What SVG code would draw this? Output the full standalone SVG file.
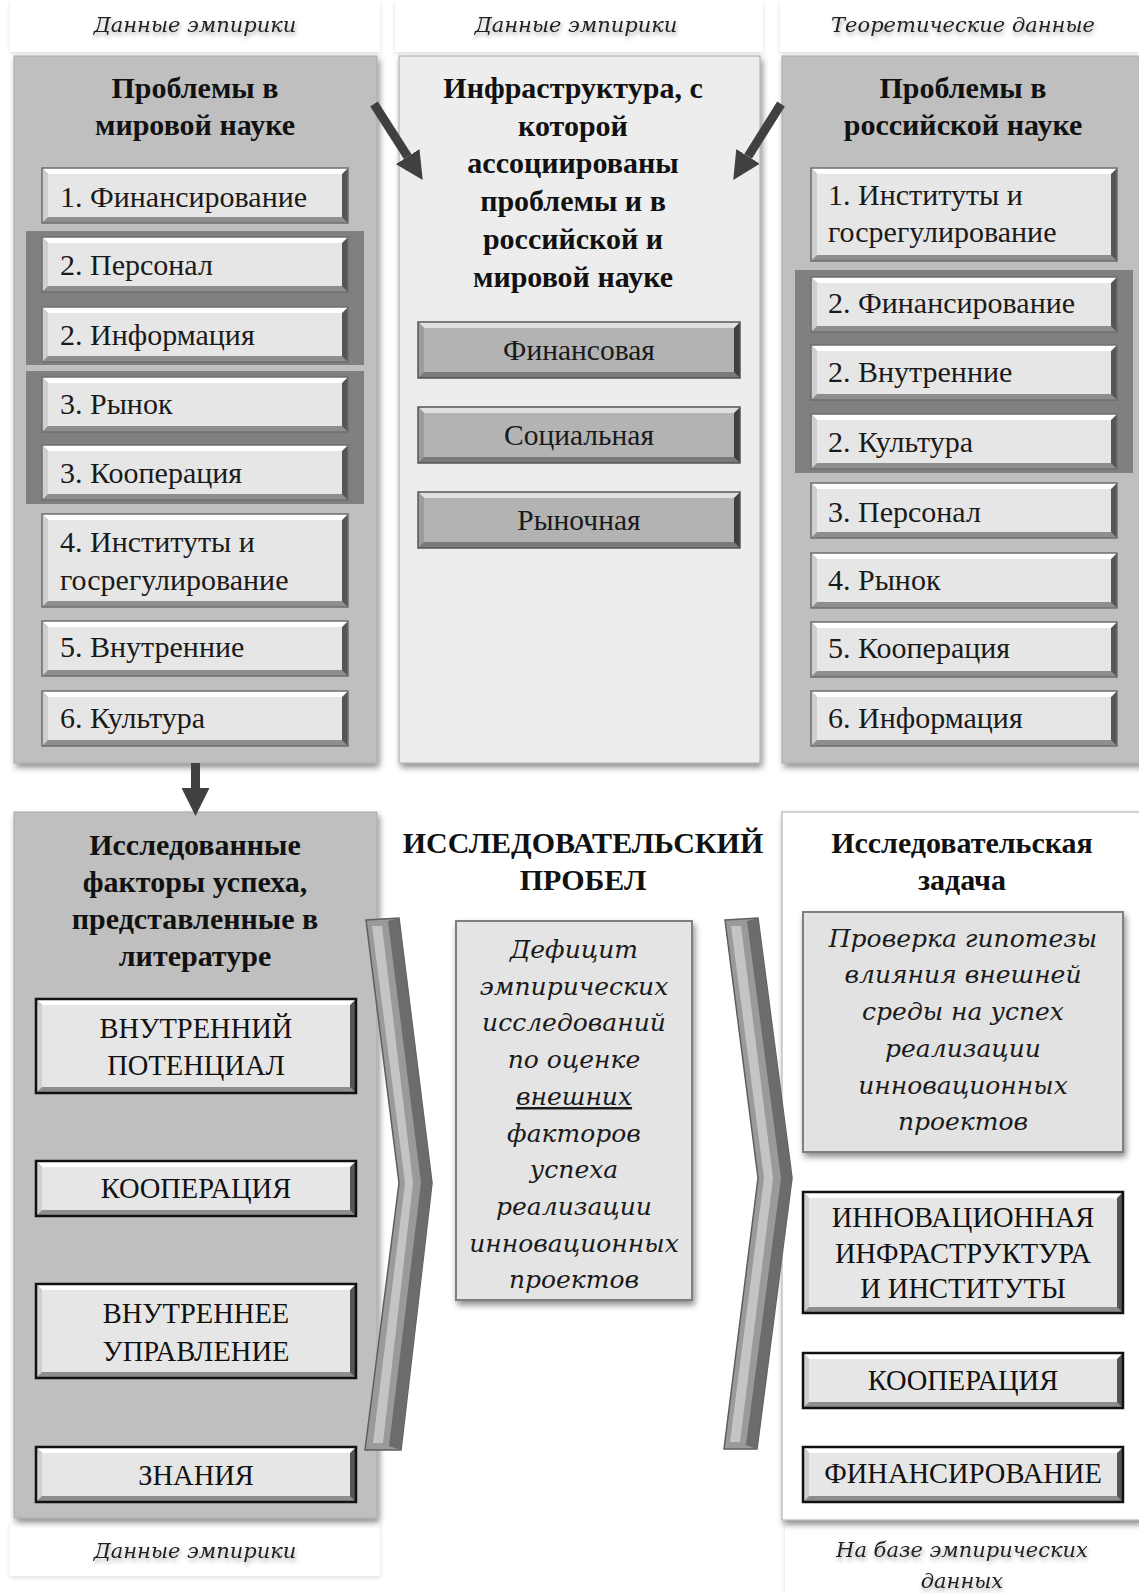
<svg xmlns="http://www.w3.org/2000/svg" xmlns:xlink="http://www.w3.org/1999/xlink" width="1139" height="1593" viewBox="0 0 1139 1593">
<style>
.h{font-family:"Liberation Serif","Times New Roman",serif;font-weight:bold;font-size:30px;fill:#111;text-anchor:middle}
.it{font-family:"Liberation Serif","Times New Roman",serif;font-size:30px;fill:#1a1a1a}
.mid{font-family:"Liberation Serif","Times New Roman",serif;font-size:29.5px;fill:#1a1a1a;text-anchor:middle}
.cap{font-family:"Liberation Serif","Times New Roman",serif;font-size:28.5px;fill:#111;text-anchor:middle}
.lab{font-family:"DejaVu Serif",serif;font-style:italic;font-size:21px;fill:#222;text-anchor:middle}
.ital{font-family:"DejaVu Serif",serif;font-style:italic;font-size:25px;fill:#1a1a1a;text-anchor:middle}
.panel{stroke:#a9a9a9;stroke-width:1}
.band{fill:#808080}
.strip{fill:#fff}
</style>
<defs>
<filter id="sh" x="-10%" y="-10%" width="120%" height="120%"><feDropShadow dx="2" dy="4" stdDeviation="3" flood-color="#000" flood-opacity="0.45"/></filter>
<filter id="shs" x="-10%" y="-30%" width="120%" height="160%"><feDropShadow dx="0" dy="2" stdDeviation="2" flood-color="#000" flood-opacity="0.12"/></filter>
<filter id="tsh" x="-10%" y="-40%" width="120%" height="180%"><feDropShadow dx="1" dy="3" stdDeviation="2" flood-color="#000" flood-opacity="0.35"/></filter>
<marker id="ah" viewBox="0 0 10 10" refX="0" refY="5" markerWidth="3.1" markerHeight="3.1" orient="auto" markerUnits="strokeWidth"><path d="M0,0 L10,5 L0,10 z" fill="#404040"/></marker>
<g id="bA">
<rect width="306" height="55" fill="#8e8e8e"/>
<polygon points="306,0 306,55 300,49 300,6" fill="#555"/>
<polygon points="0,0 306,0 300,6 6,6" fill="#fff"/>
<polygon points="0,0 6,6 6,49 0,55" fill="#cfcfcf"/>
<rect x="6" y="6" width="294" height="43" fill="#e6e6e6"/>
<rect width="306" height="55" fill="none" stroke="#6e6e6e" stroke-width="1.5"/>
</g>
<g id="bA2">
<rect width="306" height="93" fill="#8e8e8e"/>
<polygon points="306,0 306,93 300,87 300,6" fill="#555"/>
<polygon points="0,0 306,0 300,6 6,6" fill="#fff"/>
<polygon points="0,0 6,6 6,87 0,93" fill="#cfcfcf"/>
<rect x="6" y="6" width="294" height="81" fill="#e6e6e6"/>
<rect width="306" height="93" fill="none" stroke="#6e6e6e" stroke-width="1.5"/>
</g>
<g id="bM">
<rect width="322" height="56" fill="#7a7a7a"/>
<polygon points="322,0 322,56 316,50 316,6" fill="#3f3f3f"/>
<polygon points="0,0 322,0 316,6 6,6" fill="#e0e0e0"/>
<polygon points="0,0 6,6 6,50 0,56" fill="#9c9c9c"/>
<rect x="6" y="6" width="310" height="44" fill="#b3b3b3"/>
<rect width="322" height="56" fill="none" stroke="#555" stroke-width="1.5"/>
</g>
<g id="bC">
<rect width="320" height="55" fill="#8e8e8e"/>
<polygon points="320,0 320,55 314,49 314,6" fill="#555"/>
<polygon points="0,0 320,0 314,6 6,6" fill="#fff"/>
<polygon points="0,0 6,6 6,49 0,55" fill="#cfcfcf"/>
<rect x="6" y="6" width="308" height="43" fill="#e6e6e6"/>
<rect width="320" height="55" fill="none" stroke="#111" stroke-width="2.5"/>
</g>
<g id="bC2">
<rect width="320" height="94" fill="#8e8e8e"/>
<polygon points="320,0 320,94 314,88 314,6" fill="#555"/>
<polygon points="0,0 320,0 314,6 6,6" fill="#fff"/>
<polygon points="0,0 6,6 6,88 0,94" fill="#cfcfcf"/>
<rect x="6" y="6" width="308" height="82" fill="#e6e6e6"/>
<rect width="320" height="94" fill="none" stroke="#111" stroke-width="2.5"/>
</g>
<g id="bC3">
<rect width="320" height="121" fill="#8e8e8e"/>
<polygon points="320,0 320,121 314,115 314,6" fill="#555"/>
<polygon points="0,0 320,0 314,6 6,6" fill="#fff"/>
<polygon points="0,0 6,6 6,115 0,121" fill="#cfcfcf"/>
<rect x="6" y="6" width="308" height="109" fill="#e6e6e6"/>
<rect width="320" height="121" fill="none" stroke="#111" stroke-width="2.5"/>
</g>
</defs>
<rect width="1139" height="1593" fill="#fff"/>

<!-- label strips -->
<g id="labels">
<rect class="strip" x="10" y="0" width="370" height="52" filter="url(#shs)"/>
<rect class="strip" x="395" y="0" width="368" height="52" filter="url(#shs)"/>
<rect class="strip" x="780" y="0" width="359" height="52" filter="url(#shs)"/>
<rect class="strip" x="10" y="1522" width="370" height="54" filter="url(#shs)"/>
<rect class="strip" x="785" y="1522" width="354" height="71" filter="url(#shs)"/>
<g filter="url(#tsh)">
<text class="lab" x="195" y="32">Данные эмпирики</text>
<text class="lab" x="576" y="32">Данные эмпирики</text>
<text class="lab" x="963" y="32">Теоретические данные</text>
<text class="lab" x="195" y="1558">Данные эмпирики</text>
<text class="lab" x="962" y="1557">На базе эмпирических</text>
<text class="lab" x="962" y="1588">данных</text>
</g>
</g>

<!-- top left panel -->
<g id="world">
<rect class="panel" x="14" y="56" width="363" height="707" fill="#bfbfbf" filter="url(#sh)"/>
<text class="h" x="195" y="98">Проблемы в</text>
<text class="h" x="195" y="135">мировой науке</text>
<rect class="band" x="26" y="231" width="338" height="134"/>
<rect class="band" x="26" y="371" width="338" height="133"/>
</g>
<g id="w1"><use href="#bA" x="42" y="168"/><text class="it" x="60" y="207">1. Финансирование</text></g>
<g id="w2"><use href="#bA" x="42" y="237"/><text class="it" x="60" y="275">2. Персонал</text></g>
<g id="w3"><use href="#bA" x="42" y="307"/><text class="it" x="60" y="345">2. Информация</text></g>
<g id="w4"><use href="#bA" x="42" y="377"/><text class="it" x="60" y="414">3. Рынок</text></g>
<g id="w5"><use href="#bA" x="42" y="445"/><text class="it" x="60" y="483">3. Кооперация</text></g>
<g id="w6"><use href="#bA2" x="42" y="514"/><text class="it" x="60" y="552">4. Институты и</text><text class="it" x="60" y="590">госрегулирование</text></g>
<g id="w7"><use href="#bA" x="42" y="621"/><text class="it" x="60" y="657">5. Внутренние</text></g>
<g id="w8"><use href="#bA" x="42" y="691"/><text class="it" x="60" y="728">6. Культура</text></g>

<!-- top middle panel -->
<g id="infra">
<rect class="panel" x="399" y="56" width="361" height="707" fill="#ededed" filter="url(#sh)"/>
<text class="h" x="573" y="98">Инфраструктура, с</text>
<text class="h" x="573" y="136">которой</text>
<text class="h" x="573" y="173">ассоциированы</text>
<text class="h" x="573" y="211">проблемы и в</text>
<text class="h" x="573" y="249">российской и</text>
<text class="h" x="573" y="287">мировой науке</text>
</g>
<g id="m1"><use href="#bM" x="418" y="322"/><text class="mid" x="579" y="360">Финансовая</text></g>
<g id="m2"><use href="#bM" x="418" y="407"/><text class="mid" x="579" y="445">Социальная</text></g>
<g id="m3"><use href="#bM" x="418" y="492"/><text class="mid" x="579" y="530">Рыночная</text></g>

<!-- top right panel -->
<g id="russia">
<rect class="panel" x="782" y="56" width="362" height="707" fill="#bfbfbf" filter="url(#sh)"/>
<text class="h" x="963" y="98">Проблемы в</text>
<text class="h" x="963" y="135">российской науке</text>
<rect class="band" x="795" y="270" width="338" height="203"/>
</g>
<g id="r1"><use href="#bA2" x="811" y="168"/><text class="it" x="828" y="205">1. Институты и</text><text class="it" x="828" y="242">госрегулирование</text></g>
<g id="r2"><use href="#bA" x="811" y="277"/><text class="it" x="828" y="313">2. Финансирование</text></g>
<g id="r3"><use href="#bA" x="811" y="345"/><text class="it" x="828" y="382">2. Внутренние</text></g>
<g id="r4"><use href="#bA" x="811" y="414"/><text class="it" x="828" y="452">2. Культура</text></g>
<g id="r5"><use href="#bA" x="811" y="483"/><text class="it" x="828" y="522">3. Персонал</text></g>
<g id="r6"><use href="#bA" x="811" y="553"/><text class="it" x="828" y="590">4. Рынок</text></g>
<g id="r7"><use href="#bA" x="811" y="622"/><text class="it" x="828" y="658">5. Кооперация</text></g>
<g id="r8"><use href="#bA" x="811" y="691"/><text class="it" x="828" y="728">6. Информация</text></g>

<!-- bottom left panel -->
<g id="factors">
<rect class="panel" x="14" y="812" width="363" height="706" fill="#bfbfbf" filter="url(#sh)"/>
<text class="h" x="195" y="855">Исследованные</text>
<text class="h" x="195" y="892">факторы успеха,</text>
<text class="h" x="195" y="929">представленные в</text>
<text class="h" x="195" y="966">литературе</text>
</g>
<g id="f1"><use href="#bC2" x="36" y="999"/><text class="cap" x="196" y="1038">ВНУТРЕННИЙ</text><text class="cap" x="196" y="1075">ПОТЕНЦИАЛ</text></g>
<g id="f2"><use href="#bC" x="36" y="1161"/><text class="cap" x="196" y="1198">КООПЕРАЦИЯ</text></g>
<g id="f3"><use href="#bC2" x="36" y="1284"/><text class="cap" x="196" y="1323">ВНУТРЕННЕЕ</text><text class="cap" x="196" y="1361">УПРАВЛЕНИЕ</text></g>
<g id="f4"><use href="#bC" x="36" y="1447"/><text class="cap" x="196" y="1485">ЗНАНИЯ</text></g>

<!-- gap -->
<g id="gap">
<text class="h" x="583" y="853">ИССЛЕДОВАТЕЛЬСКИЙ</text>
<text class="h" x="583" y="890">ПРОБЕЛ</text>
<rect x="456" y="921" width="236" height="379" fill="#e4e4e4" stroke="#7f7f7f" stroke-width="2" filter="url(#sh)"/>
<text class="ital" x="574" y="958">Дефицит</text>
<text class="ital" x="574" y="995">эмпирических</text>
<text class="ital" x="574" y="1031">исследований</text>
<text class="ital" x="574" y="1068">по оценке</text>
<text class="ital" x="574" y="1105" text-decoration="underline">внешних</text>
<text class="ital" x="574" y="1142">факторов</text>
<text class="ital" x="574" y="1178">успеха</text>
<text class="ital" x="574" y="1215">реализации</text>
<text class="ital" x="574" y="1252">инновационных</text>
<text class="ital" x="574" y="1288">проектов</text>
</g>

<!-- bottom right panel -->
<g id="task">
<rect class="panel" x="782" y="812" width="362" height="708" fill="#fff" filter="url(#sh)"/>
<text class="h" x="962" y="853">Исследовательская</text>
<text class="h" x="962" y="890">задача</text>
<rect x="803" y="912" width="320" height="240" fill="#e2e2e2" stroke="#7f7f7f" stroke-width="2" filter="url(#sh)"/>
<text class="ital" x="963" y="947">Проверка гипотезы</text>
<text class="ital" x="963" y="983">влияния внешней</text>
<text class="ital" x="963" y="1020">среды на успех</text>
<text class="ital" x="963" y="1057">реализации</text>
<text class="ital" x="963" y="1094">инновационных</text>
<text class="ital" x="963" y="1130">проектов</text>
</g>
<g id="t1"><use href="#bC3" x="803" y="1192"/><text class="cap" x="963" y="1227">ИННОВАЦИОННАЯ</text><text class="cap" x="963" y="1263">ИНФРАСТРУКТУРА</text><text class="cap" x="963" y="1298">И ИНСТИТУТЫ</text></g>
<g id="t2"><use href="#bC" x="803" y="1353"/><text class="cap" x="963" y="1390">КООПЕРАЦИЯ</text></g>
<g id="t3"><use href="#bC" x="803" y="1447"/><text class="cap" x="963" y="1483">ФИНАНСИРОВАНИЕ</text></g>

<!-- connectors -->
<g id="connectors">
<line x1="374" y1="104" x2="407.7" y2="156.6" stroke="#404040" stroke-width="9" marker-end="url(#ah)"/>
<line x1="781" y1="104" x2="748.1" y2="156.4" stroke="#404040" stroke-width="9" marker-end="url(#ah)"/>
<line x1="195.5" y1="763" x2="195.5" y2="788" stroke="#404040" stroke-width="9" marker-end="url(#ah)"/>
<g id="chev1">
<polygon points="366,920 399,918 432,1183 401,1450 365,1450 399,1183" fill="#9a9a9a" stroke="#5e5e5e" stroke-width="1.5"/>
<polygon points="388,921 399,918 432,1183 401,1450 389,1446 421,1183" fill="#6c6c6c"/>
<polygon points="372,926 382,926 413,1183 383,1443 373,1443 405,1183" fill="#c4c4c4"/>
</g>
<g id="chev2">
<polygon points="725,920 758,918 792,1178 757,1449 724,1449 758,1178" fill="#9a9a9a" stroke="#5e5e5e" stroke-width="1.5"/>
<polygon points="747,921 758,918 792,1178 757,1449 746,1445 781,1178" fill="#6c6c6c"/>
<polygon points="731,926 741,926 773,1178 740,1442 730,1442 764,1178" fill="#c4c4c4"/>
</g>
</g>
</svg>
